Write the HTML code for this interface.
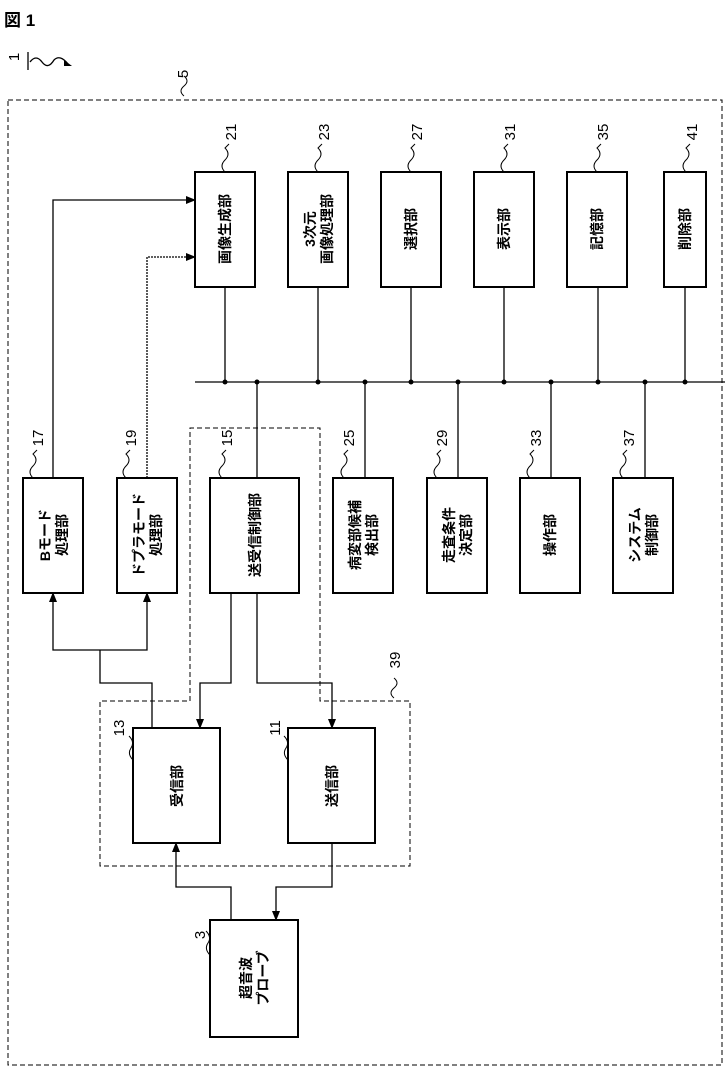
<!DOCTYPE html>
<html><head><meta charset="utf-8"><style>
html,body{margin:0;padding:0;background:#fff;}
svg{display:block;}
text{font-family:"Liberation Sans","Noto Sans CJK JP",sans-serif;fill:#000;}
.b{fill:#fff;stroke:#000;stroke-width:2;}
.l{fill:none;stroke:#000;stroke-width:1.3;}
.d{fill:none;stroke:#000;stroke-width:1;stroke-dasharray:5,3;}
.t{font-size:14px;font-weight:bold;}
.n{font-size:15px;}
</style></head><body>
<svg width="725" height="1081" viewBox="0 0 725 1081" xmlns="http://www.w3.org/2000/svg">
<defs><marker id="a" markerWidth="10" markerHeight="10" refX="9" refY="5" orient="auto" markerUnits="userSpaceOnUse"><path d="M0,1 L10,5 L0,9 Z" fill="#000"/></marker></defs>
<text x="4" y="26" style="font-size:17px;font-weight:bold">図 1</text>
<text class="n" text-anchor="middle" transform="translate(19,57) rotate(-90)">1</text>
<path class="l" d="M28,52 L28,70 M30,62 q6,-8 12,0 q6,8 12,-2 q6,-6 14,4" />
<path d="M64,60 L72,66 L64,66 Z" fill="#000"/>
<rect class="d" x="8" y="100" width="714" height="965"/>
<text class="n" text-anchor="middle" transform="translate(188,74) rotate(-90)">5</text>
<path class="l" style="stroke-width:1" d="M184,96 q-6,-5 0,-10 q6,-5 0,-10"/>
<rect class="b" x="195" y="172" width="60" height="115"/>
<rect class="b" x="288" y="172" width="60" height="115"/>
<rect class="b" x="381" y="172" width="60" height="115"/>
<rect class="b" x="474" y="172" width="60" height="115"/>
<rect class="b" x="567" y="172" width="60" height="115"/>
<rect class="b" x="664" y="172" width="42" height="115"/>
<text class="t" text-anchor="middle" transform="translate(230,229) rotate(-90)">画像生成部</text>
<text class="t" text-anchor="middle" transform="translate(315,229) rotate(-90)">3次元</text>
<text class="t" text-anchor="middle" transform="translate(332,229) rotate(-90)">画像処理部</text>
<text class="t" text-anchor="middle" transform="translate(416,229) rotate(-90)">選択部</text>
<text class="t" text-anchor="middle" transform="translate(509,229) rotate(-90)">表示部</text>
<text class="t" text-anchor="middle" transform="translate(602,229) rotate(-90)">記憶部</text>
<text class="t" text-anchor="middle" transform="translate(690,229) rotate(-90)">削除部</text>
<text class="n" text-anchor="middle" transform="translate(236,132) rotate(-90)">21</text>
<text class="n" text-anchor="middle" transform="translate(329,132) rotate(-90)">23</text>
<text class="n" text-anchor="middle" transform="translate(422,132) rotate(-90)">27</text>
<text class="n" text-anchor="middle" transform="translate(515,132) rotate(-90)">31</text>
<text class="n" text-anchor="middle" transform="translate(608,132) rotate(-90)">35</text>
<text class="n" text-anchor="middle" transform="translate(697,132) rotate(-90)">41</text>
<g class="l" style="stroke-width:1">
<path d="M225,172 q-6,-6 0,-12 q6,-6 0,-12 l4,-4"/>
<path d="M318,172 q-6,-6 0,-12 q6,-6 0,-12 l4,-4"/>
<path d="M411,172 q-6,-6 0,-12 q6,-6 0,-12 l4,-4"/>
<path d="M504,172 q-6,-6 0,-12 q6,-6 0,-12 l4,-4"/>
<path d="M597,172 q-6,-6 0,-12 q6,-6 0,-12 l4,-4"/>
<path d="M686,172 q-6,-6 0,-12 q6,-6 0,-12 l4,-4"/>
</g>
<path class="l" d="M195,382 L725,382"/>
<g class="l">
<path d="M225,287 V382 M318,287 V382 M411,287 V382 M504,287 V382 M598,287 V382 M685,287 V382"/>
<path d="M257,382 V478 M365,382 V478 M458,382 V478 M551,382 V478 M645,382 V478"/>
</g>
<g fill="#000">
<circle cx="225" cy="382" r="2.5"/><circle cx="257" cy="382" r="2.5"/><circle cx="318" cy="382" r="2.5"/><circle cx="365" cy="382" r="2.5"/><circle cx="411" cy="382" r="2.5"/><circle cx="458" cy="382" r="2.5"/><circle cx="504" cy="382" r="2.5"/><circle cx="551" cy="382" r="2.5"/><circle cx="598" cy="382" r="2.5"/><circle cx="645" cy="382" r="2.5"/><circle cx="685" cy="382" r="2.5"/>
</g>
<rect class="b" x="23" y="478" width="60" height="115"/>
<rect class="b" x="117" y="478" width="60" height="115"/>
<rect class="b" x="210" y="478" width="89" height="115"/>
<rect class="b" x="333" y="478" width="60" height="115"/>
<rect class="b" x="427" y="478" width="60" height="115"/>
<rect class="b" x="520" y="478" width="60" height="115"/>
<rect class="b" x="613" y="478" width="60" height="115"/>
<text class="t" text-anchor="middle" transform="translate(50,535) rotate(-90)">Bモード</text>
<text class="t" text-anchor="middle" transform="translate(67,535) rotate(-90)">処理部</text>
<text class="t" text-anchor="middle" transform="translate(144,535) rotate(-90)">ドプラモード</text>
<text class="t" text-anchor="middle" transform="translate(161,535) rotate(-90)">処理部</text>
<text class="t" text-anchor="middle" transform="translate(260,535) rotate(-90)">送受信制御部</text>
<text class="t" text-anchor="middle" transform="translate(360,535) rotate(-90)">病変部候補</text>
<text class="t" text-anchor="middle" transform="translate(377,535) rotate(-90)">検出部</text>
<text class="t" text-anchor="middle" transform="translate(454,535) rotate(-90)">走査条件</text>
<text class="t" text-anchor="middle" transform="translate(471,535) rotate(-90)">決定部</text>
<text class="t" text-anchor="middle" transform="translate(555,535) rotate(-90)">操作部</text>
<text class="t" text-anchor="middle" transform="translate(640,535) rotate(-90)">システム</text>
<text class="t" text-anchor="middle" transform="translate(657,535) rotate(-90)">制御部</text>
<text class="n" text-anchor="middle" transform="translate(43,438) rotate(-90)">17</text>
<text class="n" text-anchor="middle" transform="translate(136,438) rotate(-90)">19</text>
<text class="n" text-anchor="middle" transform="translate(232,438) rotate(-90)">15</text>
<text class="n" text-anchor="middle" transform="translate(354,438) rotate(-90)">25</text>
<text class="n" text-anchor="middle" transform="translate(447,438) rotate(-90)">29</text>
<text class="n" text-anchor="middle" transform="translate(541,438) rotate(-90)">33</text>
<text class="n" text-anchor="middle" transform="translate(634,438) rotate(-90)">37</text>
<g class="l" style="stroke-width:1">
<path d="M33,478 q-6,-6 0,-12 q6,-6 0,-12 l4,-4"/>
<path d="M126,478 q-6,-6 0,-12 q6,-6 0,-12 l4,-4"/>
<path d="M222,478 q-6,-6 0,-12 q6,-6 0,-12 l4,-4"/>
<path d="M344,478 q-6,-6 0,-12 q6,-6 0,-12 l4,-4"/>
<path d="M437,478 q-6,-6 0,-12 q6,-6 0,-12 l4,-4"/>
<path d="M530,478 q-6,-6 0,-12 q6,-6 0,-12 l4,-4"/>
<path d="M623,478 q-6,-6 0,-12 q6,-6 0,-12 l4,-4"/>
</g>
<path class="l" d="M53,478 V200 H195" marker-end="url(#a)"/>
<path class="l" style="stroke-dasharray:2,1" d="M147,478 V257 H195" marker-end="url(#a)"/>
<path class="d" d="M190,701 V428 H320 V701 H410 V866 H100 V701 H190"/>
<text class="n" text-anchor="middle" transform="translate(400,660) rotate(-90)">39</text>
<path class="l" style="stroke-width:1" d="M394,698 q-6,-5 0,-10 q6,-5 0,-10"/>
<rect class="b" x="133" y="728" width="87" height="115"/>
<rect class="b" x="288" y="728" width="87" height="115"/>
<text class="t" text-anchor="middle" transform="translate(182,786) rotate(-90)">受信部</text>
<text class="t" text-anchor="middle" transform="translate(337,786) rotate(-90)">送信部</text>
<text class="n" text-anchor="middle" transform="translate(124,728) rotate(-90)">13</text>
<text class="n" text-anchor="middle" transform="translate(280,728) rotate(-90)">11</text>
<path class="l" style="stroke-width:1" d="M133,760 q-6,-6 -2,-12 q4,-6 -2,-12"/>
<path class="l" style="stroke-width:1" d="M288,760 q-6,-6 -2,-12 q4,-6 -2,-12"/>
<path class="l" d="M231,593 V683 H200 V728" marker-end="url(#a)"/>
<path class="l" d="M257,593 V683 H332 V728" marker-end="url(#a)"/>
<path class="l" d="M152,728 V683 H100 V650"/>
<path class="l" d="M100,650 H53 V593" marker-end="url(#a)"/>
<path class="l" d="M100,650 H147 V593" marker-end="url(#a)"/>
<rect class="b" x="210" y="920" width="88" height="117"/>
<text class="t" text-anchor="middle" transform="translate(251,978) rotate(-90)">超音波</text>
<text class="t" text-anchor="middle" transform="translate(268,978) rotate(-90)">プローブ</text>
<text class="n" text-anchor="middle" transform="translate(205,935) rotate(-90)">3</text>
<path class="l" style="stroke-width:1" d="M210,955 q-6,-6 -2,-12 q4,-6 -2,-12"/>
<path class="l" d="M231,920 V887 H176 V843" marker-end="url(#a)"/>
<path class="l" d="M332,843 V887 H276 V920" marker-end="url(#a)"/>
</svg>
</body></html>
